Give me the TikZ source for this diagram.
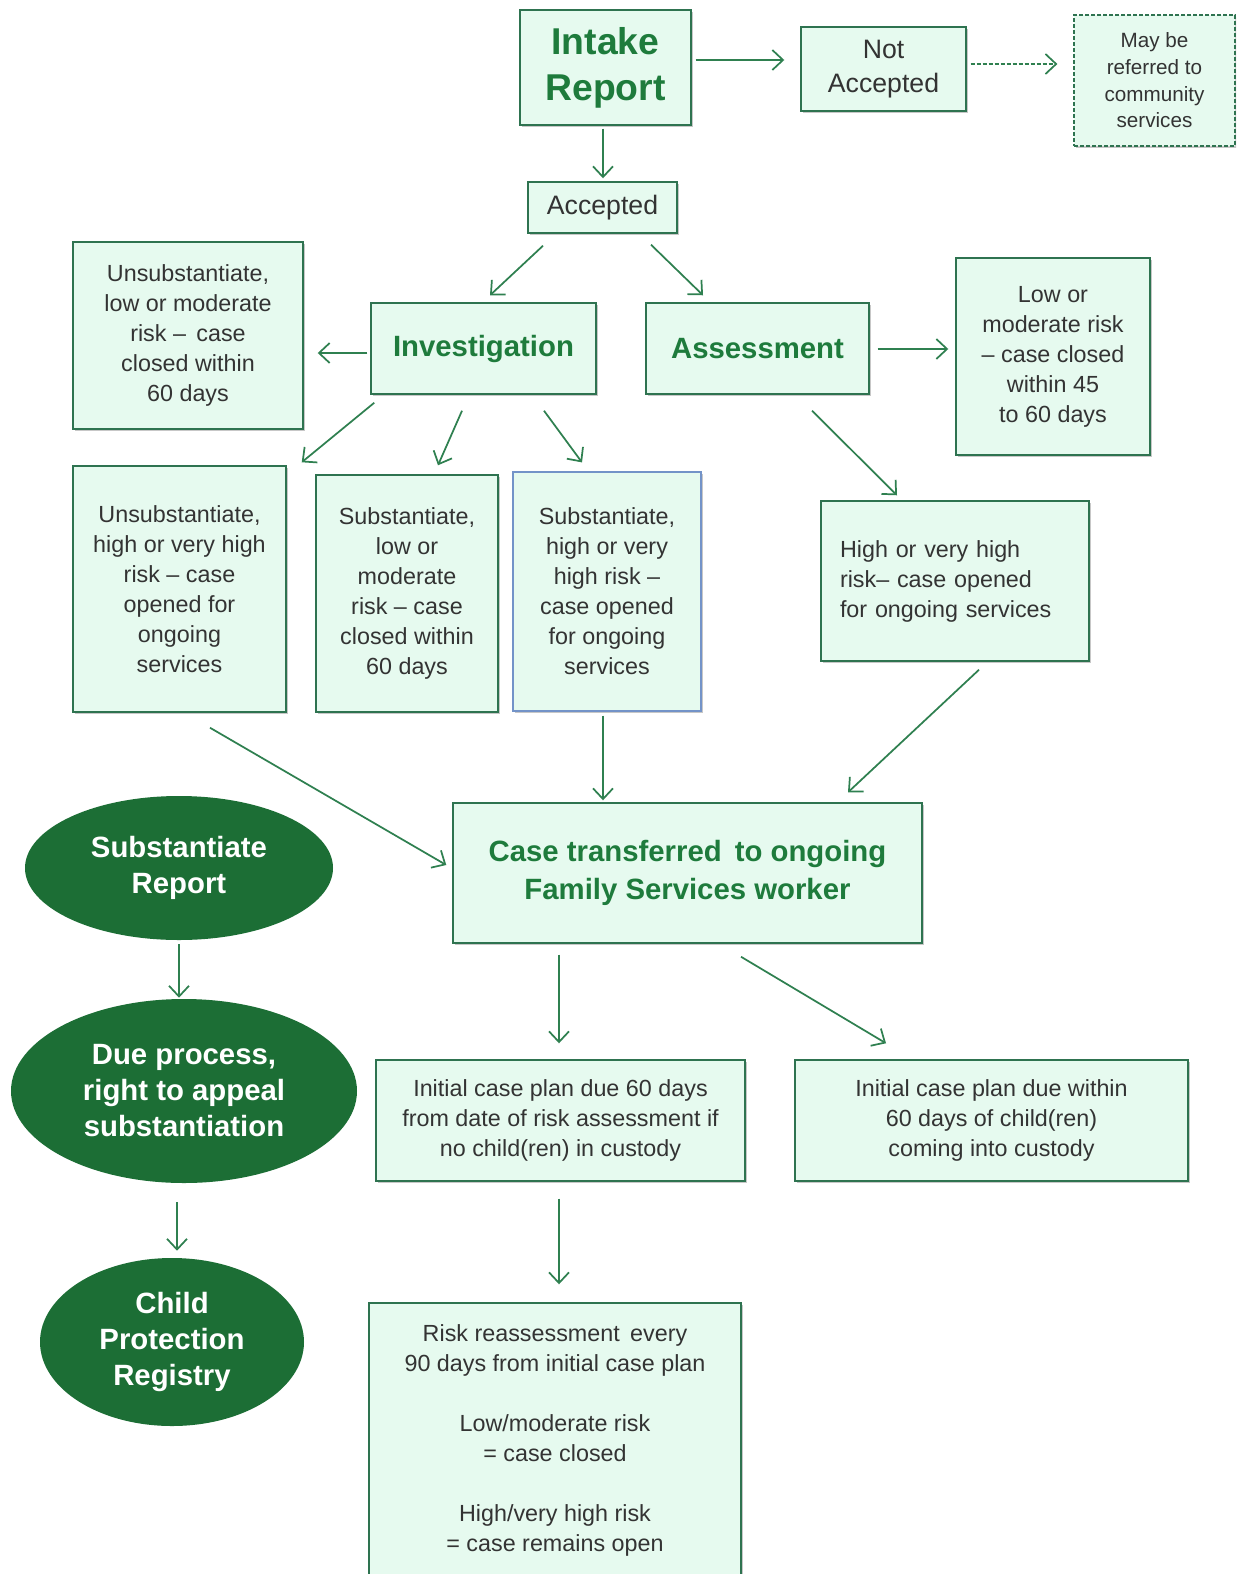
\documentclass[tikz,border=0pt]{standalone}
\usepackage{fontspec}
\setmainfont{Liberation Sans}
\usetikzlibrary{arrows.meta,shadows,shapes.geometric}
\definecolor{boxfill}{HTML}{E6FAEF}
\definecolor{boxline}{HTML}{2E7350}
\definecolor{arrowc}{HTML}{2F8050}
\definecolor{headgreen}{HTML}{1E7B3C}
\definecolor{ellfill}{HTML}{1C6E35}
\definecolor{bodytext}{HTML}{333333}
\definecolor{blueline}{HTML}{7393C8}
\tikzset{
  sz/.style 2 args={minimum width=#1*0.75pt, minimum height=#2*0.75pt},
  bx/.style={draw=boxline, line width=1.1pt, fill=boxfill, inner sep=0pt, align=center,
    text=bodytext, font=\fontsize{17.5}{22.5}\selectfont,
    drop shadow={shadow xshift=1.5pt,shadow yshift=-1.5pt,fill=black,opacity=0.22}},
  headbx/.style={bx, text=headgreen, font=\bfseries\fontsize{22}{28}\selectfont},
  ell/.style={ellipse, fill=ellfill, draw=none, inner sep=0pt, align=center, text=white,
    font=\bfseries\fontsize{22}{27}\selectfont},
  arr/.style={draw=arrowc, line width=1.3pt, -{Straight Barb[length=8pt,width=15pt,line width=1.3pt]}},
  fine dash/.style={dash pattern=on 3pt off 1.5pt},
}
\begin{document}
\begin{tikzpicture}[x=0.75pt,y=-0.75pt]
\useasboundingbox (0,0) rectangle (1236,1574);
\clip (0,0) rectangle (1236,1574);
\fill[white] (0,0) rectangle (1236,1574);

% boxes
\node[headbx, sz={171}{115}, font=\bfseries\fontsize{28}{34.5}\selectfont] (intake) at (605.5,67.5) {Intake\\Report};
\node[bx, sz={165}{84}, font=\fontsize{20}{25.5}\selectfont] (notacc) at (883.5,69) {Not\\Accepted};
\node[bx, sz={161}{131}, fine dash, line width=0.9pt, font=\fontsize{15.5}{20}\selectfont] (maybe) at (1154.5,80.5) {May be\\referred to\\community\\services};
\node[bx, sz={149}{51}, font=\fontsize{20}{25.5}\selectfont] (acc) at (602.5,207.5) {Accepted};

\node[bx, sz={230}{187}] (ul) at (188,335.5) {Unsubstantiate,\\low or moderate\\risk --\, case\\closed within\\60 days};
\node[headbx, sz={225}{91}] (inv) at (483.5,348.5) {Investigation};
\node[headbx, sz={223}{91}] (ass) at (757.5,348.5) {Assessment};
\node[bx, sz={194}{197}] (lm) at (1053,356.5) {Low or\\moderate risk\\-- case closed\\within 45\\to 60 days};

\node[bx, sz={213}{246}] (uh) at (179.5,589) {Unsubstantiate,\\high or very high\\risk -- case\\opened for\\ongoing\\services};
\node[bx, sz={182}{237}] (sl) at (407,593.5) {Substantiate,\\low or\\moderate\\risk -- case\\closed within\\60 days};
\node[bx, sz={188}{239}, draw=blueline, line width=0.9pt] (sh) at (607,591.5) {Substantiate,\\high or very\\high risk --\\case opened\\for ongoing\\services};
\node[bx, sz={268}{160}, text width=230*0.75pt, align=left] (hv) at (955,581) {High or very high\\risk-- case opened\\for ongoing services};

\node[headbx, sz={469}{140}] (ct) at (687.5,873) {Case transferred\, to ongoing\\Family Services worker};

\node[bx, sz={369}{121}] (ip1) at (560.5,1120.5) {Initial case plan due 60 days\\from date of risk assessment if\\no child(ren) in custody};
\node[bx, sz={393}{121}] (ip2) at (991.5,1120.5) {Initial case plan due within\\60 days of child(ren)\\coming into custody};
\node[bx, sz={372}{274}] (rr) at (555,1440) {Risk reassessment\, every\\90 days from initial case plan\\[22.5pt]Low/moderate risk\\= case closed\\[22.5pt]High/very high risk\\= case remains open};

% ellipses
\node[ell, minimum width=308*0.75pt, minimum height=144*0.75pt] (sr) at (179,868) {Substantiate\\Report};
\node[ell, minimum width=346*0.75pt, minimum height=184*0.75pt] (dp) at (184,1091) {Due process,\\right to appeal\\substantiation};
\node[ell, minimum width=264*0.75pt, minimum height=168*0.75pt] (cp) at (172,1342) {Child\\Protection\\Registry};

% connectors
\draw[arr] ([shift={(4,-7.5)}]intake.east) -- ([shift={(-16,-9)}]notacc.west);
\draw[arr, fine dash, line width=0.9pt] ([shift={(4,-5)}]notacc.east) -- ([shift={(-16,-16.5)}]maybe.west);
\draw[arr] ([shift={(-2.5,3)}]intake.south) -- ([shift={(0.5,-3)}]acc.north);
\draw[arr] ([shift={(-59.5,12)}]acc.south) -- ([shift={(6.5,-7)}]inv.north);
\draw[arr] ([shift={(48.5,11)}]acc.south) -- ([shift={(-54.5,-7)}]ass.north);
\draw[arr] ([shift={(-3,4.5)}]inv.west) -- ([shift={(14,17.5)}]ul.east);
\draw[arr] ([shift={(8,0.5)}]ass.east) -- ([shift={(-7,-7.5)}]lm.west);
\draw[arr] ([shift={(4,8)}]inv.south west) -- ([shift={(15,-3)}]uh.north east);
\draw[arr] ([shift={(-21.5,16)}]inv.south) -- ([shift={(31,-9)}]sl.north);
\draw[arr] ([shift={(60.5,16)}]inv.south) -- ([shift={(-25,-9)}]sh.north);
\draw[arr] ([shift={(54.5,16)}]ass.south) -- ([shift={(-58,-5)}]hv.north);
\draw[arr] ([shift={(30.5,15)}]uh.south) -- ([shift={(-6,-8)}]ct.west);
\draw[arr] ([shift={(-4,4)}]sh.south) -- ([shift={(-84.5,-2)}]ct.north);
\draw[arr] ([shift={(24,8)}]hv.south) -- ([shift={(160.5,-10)}]ct.north);
\draw[arr] ([shift={(-128.5,11)}]ct.south) -- ([shift={(-1.5,-16)}]ip1.north);
\draw[arr] ([shift={(53.5,13)}]ct.south) -- ([shift={(-105.5,-16)}]ip2.north);
\draw[arr] ([shift={(-1.5,17)}]ip1.south) -- ([shift={(4,-18)}]rr.north);
\draw[arr] ([shift={(0,4)}]sr.south) -- ([shift={(-5,-1)}]dp.north);
\draw[arr] ([shift={(-7,19)}]dp.south) -- ([shift={(5,-7)}]cp.north);
\end{tikzpicture}
\end{document}
